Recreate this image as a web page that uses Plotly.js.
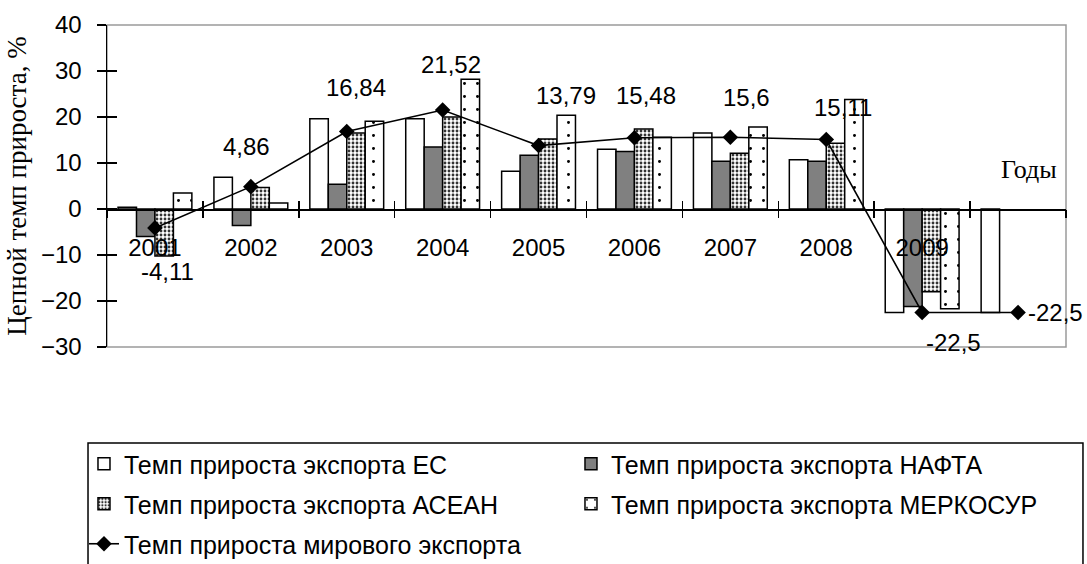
<!DOCTYPE html>
<html><head><meta charset="utf-8">
<script src="https://cdn.plot.ly/plotly-3.0.1.min.js"></script>
<style>body{margin:0;background:#fff}</style>
</head><body><div id="chart" style="width:1087px;height:564px"></div>
<script>
const years = ['2001','2002','2003','2004','2005','2006','2007','2008','2009',''];
const euValues = [0.4, 6.9, 19.6, 19.6, 8.2, 13.0, 16.5, 10.7, -22.5, -22.5];
const naftaValues = [-6.0, -3.6, 5.4, 13.5, 11.7, 12.5, 10.4, 10.4, -21.2, null];
const aseanValues = [-10.2, 4.7, 16.5, 20.0, 15.2, 17.4, 12.1, 14.3, -18.0, null];
const mercosurValues = [3.5, 1.3, 19.1, 28.2, 20.4, 15.6, 17.8, 23.8, -21.7, null];
const worldValues = [-4.11, 4.86, 16.84, 21.52, 13.79, 15.48, 15.6, 15.11, -22.5, -22.5];
const worldLabels = ['-4,11','4,86','16,84','21,52','13,79','15,48','15,6','15,11','-22,5','-22,5'];
const seriesNames = ['Темп прироста экспорта ЕС','Темп прироста экспорта НАФТА','Темп прироста экспорта АСЕАН','Темп прироста экспорта МЕРКОСУР','Темп прироста мирового экспорта'];
const yTitle = 'Цепной темп прироста, %';
const xTitle = 'Годы';

const idx = years.map((_, i) => i);
const bounds = years.map((_, i) => i - 0.5).concat([years.length - 0.5]);
const SANS = 'Liberation Sans, Arial, sans-serif';
const SERIF = 'Liberation Serif, Times New Roman, serif';
const zeroPos = 30 / 70;

const barLine = {color: 'black', width: 1.5};
const traces = [
  {type: 'bar', name: seriesNames[0], x: idx, y: euValues, legend: 'legend',
   marker: {color: 'white', line: barLine}},
  {type: 'bar', name: seriesNames[1], x: idx, y: naftaValues, legend: 'legend',
   marker: {color: '#808080', line: barLine}},
  {type: 'bar', name: seriesNames[2], x: idx, y: aseanValues, legend: 'legend2',
   marker: {color: 'white', line: barLine,
            pattern: {shape: '.', fgcolor: '#333', bgcolor: 'white', size: 4, solidity: 0.4}}},
  {type: 'bar', name: seriesNames[3], x: idx, y: mercosurValues, legend: 'legend2',
   marker: {color: 'white', line: barLine,
            pattern: {shape: '.', fgcolor: 'black', bgcolor: 'white', size: 13, solidity: 0.04}}},
  {type: 'scatter', mode: 'lines+markers', name: seriesNames[4], x: idx, y: worldValues, legend: 'legend3',
   line: {color: 'black', width: 1.6},
   marker: {symbol: 'diamond', size: 12, color: 'black'}},
  {type: 'scatter', x: [], y: [], xaxis: 'x2', yaxis: 'y', showlegend: false, hoverinfo: 'skip'},
  {type: 'scatter', x: [], y: [], xaxis: 'x3', yaxis: 'y', showlegend: false, hoverinfo: 'skip'},
  {type: 'scatter', x: [], y: [], xaxis: 'x', yaxis: 'y2', showlegend: false, hoverinfo: 'skip'}
];

const labelOffsets = [[13,-44],[-4,40],[9,44],[8,46],[27,50],[12,42],[16,40],[17,32],[31,-30],[8,0]];
const annotations = worldLabels.map((t, i) => ({
  x: idx[i], y: worldValues[i], xref: 'x', yref: 'y', text: t, showarrow: false,
  xshift: labelOffsets[i][0], yshift: labelOffsets[i][1],
  xanchor: i === worldLabels.length - 1 ? 'left' : 'center', yanchor: 'middle',
  font: {family: SANS, size: 24, color: 'black'}
}));
annotations.push({
  xref: 'paper', yref: 'paper', x: 0.961, y: 0.55, text: xTitle, showarrow: false,
  xanchor: 'center', yanchor: 'middle',
  font: {family: SERIF, size: 26, color: 'black'}
});

const tickAx = {range: [-0.5, years.length - 0.5], anchor: 'free', position: zeroPos,
  overlaying: 'x', tickmode: 'array', tickvals: bounds, ticklen: 8, tickwidth: 1.5,
  tickcolor: 'black', showticklabels: false, showgrid: false, zeroline: false, showline: false};

const legendBase = {orientation: 'h', x: -0.024, xanchor: 'left', yanchor: 'middle',
  entrywidth: 442, entrywidthmode: 'pixels', traceorder: 'normal',
  borderwidth: 0, bgcolor: 'rgba(0,0,0,0)',
  font: {family: SANS, size: 25, color: 'black'}};

const layout = {
  width: 1087, height: 564,
  margin: {l: 107, r: 21, t: 25, b: 217, autoexpand: false},
  paper_bgcolor: 'white', plot_bgcolor: 'white',
  showlegend: true,
  barmode: 'group', bargap: 0.23, bargroupgap: 0,
  xaxis: {range: [-0.5, years.length - 0.5], anchor: 'free', position: zeroPos,
    tickmode: 'array', tickvals: idx, ticktext: years, ticks: '',
    showline: true, linecolor: 'black', linewidth: 1.5, showgrid: false, zeroline: false,
    ticklabelstandoff: 17,
    tickfont: {family: SANS, size: 24, color: 'black'}},
  xaxis2: Object.assign({}, tickAx, {ticks: 'outside'}),
  xaxis3: Object.assign({}, tickAx, {ticks: 'inside'}),
  yaxis: {range: [-30, 40], tickmode: 'linear', tick0: 0, dtick: 10,
    showline: true, linecolor: 'black', linewidth: 1.5, ticks: 'outside', ticklen: 9,
    tickwidth: 1.5, tickcolor: 'black', showgrid: false, zeroline: false,
    ticklabelstandoff: 10,
    tickfont: {family: SANS, size: 24, color: 'black'},
    title: {text: yTitle, font: {family: SERIF, size: 27, color: 'black'}, standoff: 6}},
  yaxis2: {range: [-30, 40], overlaying: 'y', anchor: 'x', tickmode: 'linear', tick0: 0, dtick: 10,
    ticks: 'inside', ticklen: 10, tickwidth: 1.5, tickcolor: 'black',
    showticklabels: false, showgrid: false, zeroline: false, showline: false},
  shapes: [
    {type: 'rect', xref: 'paper', yref: 'paper', x0: 0, x1: 1, y0: 0, y1: 1,
     line: {color: '#9a9a9a', width: 1.5}, layer: 'below'},
    {type: 'rect', xref: 'paper', yref: 'paper', x0: -0.0198, x1: 1.0177, y0: -0.75, y1: -0.298,
     line: {color: 'black', width: 1.5}, layer: 'above'}
  ],
  annotations: annotations,
  legend: Object.assign({}, legendBase, {y: (347 - 464) / 322}),
  legend2: Object.assign({}, legendBase, {y: (347 - 504) / 322}),
  legend3: Object.assign({}, legendBase, {y: (347 - 544) / 322})
};

Plotly.newPlot('chart', traces, layout, {displayModeBar: false, staticPlot: true});
</script>
</body></html>
